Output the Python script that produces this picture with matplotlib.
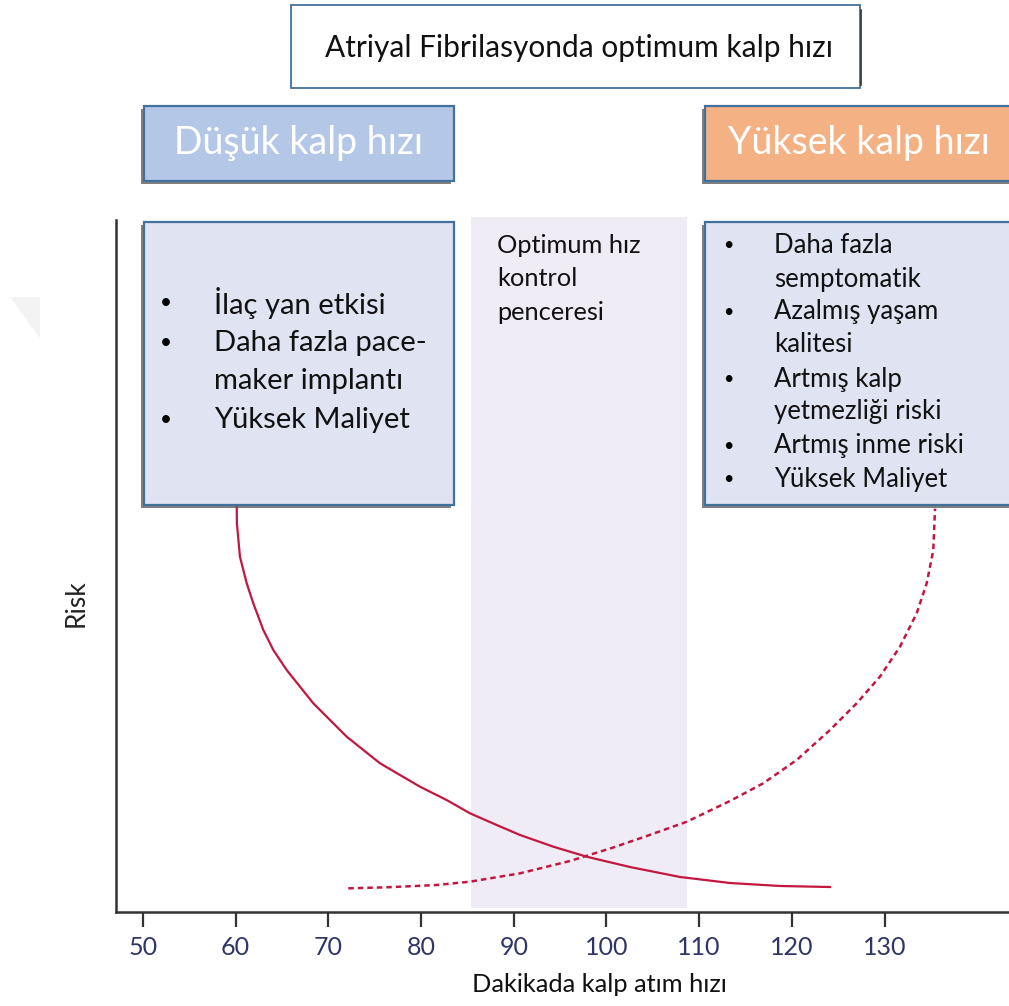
import matplotlib
matplotlib.use("Agg")
import matplotlib.pyplot as plt
from matplotlib.patches import Rectangle, Polygon

plt.rcParams['font.family'] = ['Lato', 'DejaVu Sans']

# ---- data ----
low_hr_x = [60.11, 60.13, 60.46, 61.19, 61.90, 62.98, 64.06, 65.50, 66.94, 68.37, 70.17,
            71.97, 73.77, 75.57, 77.72, 79.88, 82.76, 85.28, 88.16, 90.67, 94.26, 97.86,
            102.54, 107.93, 113.32, 118.72, 124.11]
low_hr_risk = [58.82, 56.17, 51.34, 47.50, 44.61, 40.75, 37.86, 34.97, 32.56, 30.16, 27.75,
               25.34, 23.41, 21.49, 19.80, 18.11, 16.18, 14.26, 12.57, 11.13, 9.44, 7.99,
               6.50, 5.06, 4.19, 3.76, 3.61]
high_hr_x = [72.15, 76.29, 81.68, 85.27, 90.67, 96.06, 100.73, 104.34, 108.65, 113.32, 116.91,
             120.52, 124.11, 126.99, 129.50, 131.66, 133.46, 134.54, 135.25, 135.44]
high_hr_risk = [3.42, 3.57, 3.90, 4.38, 5.59, 7.37, 9.32, 10.98, 13.04, 16.04, 18.60,
                21.97, 26.30, 30.16, 34.01, 38.34, 43.16, 47.50, 52.27, 58.29]
optimum_window = [85.4, 108.7]
xticks = [50, 60, 70, 80, 90, 100, 110, 120, 130]

title_text = "Atriyal Fibrilasyonda optimum kalp hızı"
low_header = "Düşük kalp hızı"
high_header = "Yüksek kalp hızı"
low_items = ["İlaç yan etkisi", "Daha fazla pace-\nmaker implantı", "Yüksek Maliyet"]
high_items = ["Daha fazla\nsemptomatik", "Azalmış yaşam\nkalitesi", "Artmış kalp\nyetmezliği riski",
              "Artmış inme riski", "Yüksek Maliyet"]
window_text = "Optimum hız\nkontrol\npenceresi"
xlabel = "Dakikada kalp atım hızı"
ylabel = "Risk"

W, H = 1009, 1006
fig = plt.figure(figsize=(W / 100, H / 100), dpi=100)
fig.patch.set_facecolor("white")

# main axes (pixel geometry)
ax_l, ax_r, ax_t, ax_b = 116, 1009, 220, 912
ax = fig.add_axes([ax_l / W, (H - ax_b) / H, (ax_r - ax_l) / W, (ax_b - ax_t) / H])
ax.set_xlim(47.09, 143.42)
ax.set_ylim(0, 100)
ax.set_facecolor("none")

ax.axvspan(optimum_window[0], optimum_window[1], ymin=0.006, ymax=1.004, color="#efecf5",
           lw=0, zorder=0, clip_on=False)

curve_color = "#c3173f"
ax.plot(low_hr_x, low_hr_risk, color=curve_color, lw=1.6, solid_joinstyle="round", zorder=2)
ax.plot(high_hr_x, high_hr_risk, color=curve_color, lw=1.8, linestyle=(0, (2.2, 1.6)), zorder=2)

for s in ["top", "right"]:
    ax.spines[s].set_visible(False)
for s in ["left", "bottom"]:
    ax.spines[s].set_color("#333333")
    ax.spines[s].set_linewidth(1.8)
ax.set_xticks(xticks)
ax.set_xticklabels([str(t) for t in xticks])
ax.tick_params(axis="x", direction="out", length=11, width=1.6, color="#333333",
               labelsize=18, labelcolor="#2f3566", pad=6)
ax.set_yticks([])

# overlay axes in pixel coordinates for annotation boxes
ov = fig.add_axes([0, 0, 1, 1])
ov.set_xlim(0, W)
ov.set_ylim(H, 0)
ov.axis("off")
ov.patch.set_alpha(0)

border = "#41719c"


def box(x0, y0, x1, y1, fc, shadow=True, lw=1.6):
    if shadow:
        ov.add_patch(Rectangle((x0 - 3, y0 + 3), x1 - x0, y1 - y0, fc="#555555", ec="none",
                               alpha=0.75, zorder=3))
    ov.add_patch(Rectangle((x0, y0), x1 - x0, y1 - y0, fc=fc, ec=border, lw=lw, zorder=4))


# faint watermark triangle
ov.add_patch(Polygon([(10, 297), (40, 297), (40, 338)], closed=True, fc="#f3f3f3", ec="none", zorder=1))

# title box
box(291, 5, 860, 88, "white", shadow=False, lw=1.3)
ov.plot([861, 861], [10, 85], color="#333333", lw=1.2, zorder=5)
ov.text(579, 48, title_text, ha="center", va="center", fontsize=21.5, color="#111111", zorder=6)

# header boxes
box(144, 106, 454, 181, "#b4c7e7")
ov.text(299, 143, low_header, ha="center", va="center", fontsize=27, color="white", zorder=6)
box(705, 106, 1012, 181, "#f4b183")
ov.text(859, 143, high_header, ha="center", va="center", fontsize=27, color="white", zorder=6)

# list boxes
box(144, 222, 454, 505, "#dfe3f2")
box(705, 222, 1012, 505, "#dfe3f2")

# left list
left_lines_y = [303, 343, 381, 420]
k = 0
for item in low_items:
    parts = item.split("\n")
    ov.text(166, left_lines_y[k], "•", ha="center", va="center", fontsize=15, color="black", zorder=6)
    for p in parts:
        ov.text(214, left_lines_y[k], p, ha="left", va="center", fontsize=21,
                color="#111111", zorder=6)
        k += 1

# right list
line_y = [245, 279, 312, 345, 379, 412, 446, 479]
k = 0
for item in high_items:
    parts = item.split("\n")
    ov.text(728, line_y[k], "•", ha="center", va="center", fontsize=13, color="black", zorder=6)
    for p in parts:
        ov.text(774, line_y[k], p, ha="left", va="center", fontsize=18.5, color="#111111", zorder=6)
        k += 1

# window text
for i, p in enumerate(window_text.split("\n")):
    ov.text(497, line_y[i], p, ha="left", va="center", fontsize=18.3, color="#111111", zorder=6)

# axis labels
ov.text(599, 985, xlabel, ha="center", va="center", fontsize=18.3, color="#111111")
ov.text(76, 603, ylabel, ha="center", va="center", fontsize=19, color="#222222", rotation=90)

fig.savefig("out.png", dpi=100)
